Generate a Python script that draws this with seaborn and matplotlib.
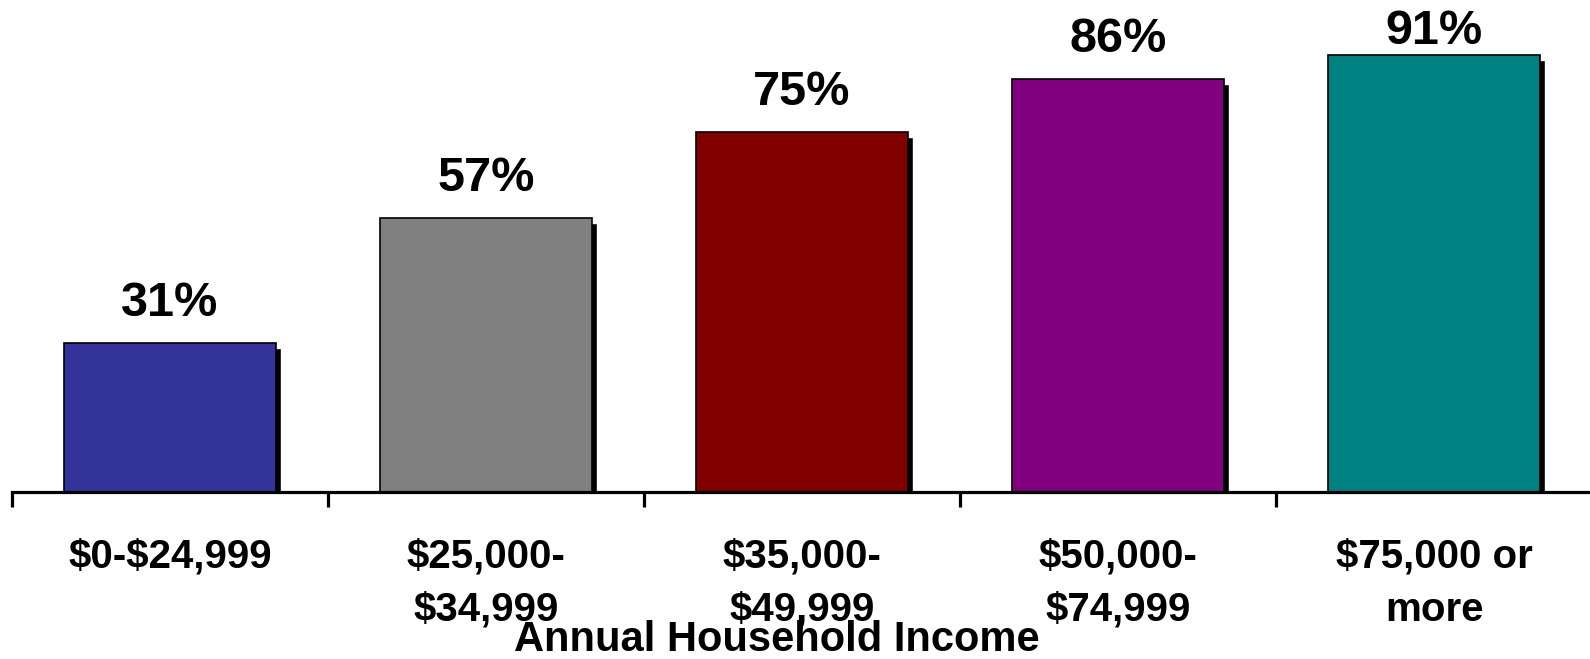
import matplotlib
matplotlib.use("Agg")
import matplotlib.pyplot as plt
import matplotlib.transforms as mtransforms
import seaborn as sns
import pandas as pd

# values
income = ['$0-$24,999', '$25,000-\n$34,999', '$35,000-\n$49,999', '$50,000-\n$74,999', '$75,000 or\nmore']
pct = [31, 57, 75, 86, 91]
colors = ['#333399', '#808080', '#800000', '#800080', '#008080']

df = pd.DataFrame({'income': income, 'pct': pct})

sns.set_style('white')
plt.rcParams['font.family'] = ['Liberation Sans', 'DejaVu Sans']
plt.rcParams['font.weight'] = 'bold'
plt.rcParams['text.parse_math'] = False
plt.rcParams['text.color'] = 'black'
plt.rcParams['xtick.color'] = 'black'
plt.rcParams['axes.edgecolor'] = 'black'

fig = plt.figure(figsize=(15.9, 6.59), dpi=100)
ax = fig.add_axes([12 / 1590, 167 / 659, 1580 / 1590, 480 / 659])

# shadow bars first, shifted right/down
sns.barplot(data=df, x='income', y='pct', color='black', width=0.67, saturation=1, ax=ax)
shift = mtransforms.ScaledTranslation(5 / 100, -5 / 100, fig.dpi_scale_trans)
for p in ax.patches:
    p.set_transform(ax.transData + shift)

sns.barplot(data=df, x='income', y='pct', hue='income', palette=colors, legend=False,
            width=0.67, saturation=1, edgecolor='black', linewidth=1.2, ax=ax)

# labels above bars (top one squeezed to stay inside the picture)
for i, v in enumerate(pct):
    ax.text(i, min(v + 3.6, 91.2), f'{v}%', ha='center', va='bottom', fontsize=35,
            fontweight='bold', clip_on=False)

ax.set_xlim(-0.5, 4.5)
ax.set_ylim(0, 100)
ax.set_yticks([])
for s in ['top', 'right', 'left']:
    ax.spines[s].set_visible(False)
ax.spines['bottom'].set_linewidth(2.3)
ax.spines['bottom'].set_zorder(5)

ax.set_xticks([-0.5, 0.5, 1.5, 2.5, 3.5])
ax.set_xticklabels([])
ax.tick_params(axis='x', which='major', direction='out', length=11, width=2.3, bottom=True)
ax.set_xticks(range(len(income)), minor=True)
ax.set_xticklabels(income, minor=True, fontsize=29, fontweight='bold', linespacing=1.5, va='top')
ax.tick_params(axis='x', which='minor', length=0, pad=33)
ax.set_xlabel('')
ax.set_ylabel('')

fig.text(777 / 1590, 1 - 640 / 659, 'Annual Household Income', ha='center', va='center',
         fontsize=30, fontweight='bold')

fig.savefig('out.png', dpi=100)
